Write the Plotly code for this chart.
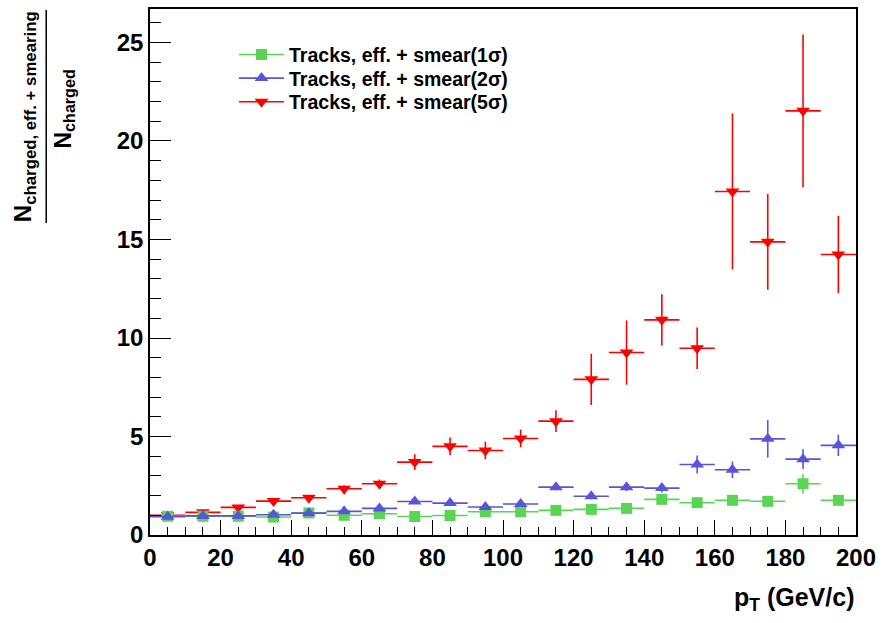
import plotly.graph_objects as go

# Transverse-momentum bin centres (GeV/c), 10 GeV/c wide bins
pt = [5, 15, 25, 35, 45, 55, 65, 75, 85, 95,
      105, 115, 125, 135, 145, 155, 165, 175, 185, 195]
bin_half_width = 5

# Ratio N(charged, eff. + smearing) / N(charged) per bin
ratio_1sigma = [0.95, 0.95, 0.95, 0.91, 1.12, 1.00, 1.08, 0.94, 0.99, 1.18,
                1.18, 1.25, 1.30, 1.35, 1.81, 1.64, 1.76, 1.71, 2.60, 1.76]
err_1sigma = [0.02, 0.02, 0.02, 0.03, 0.03, 0.03, 0.04, 0.04, 0.05, 0.06,
              0.07, 0.08, 0.09, 0.10, 0.13, 0.12, 0.14, 0.15, 0.49, 0.16]

ratio_2sigma = [0.93, 0.97, 0.97, 1.03, 1.11, 1.20, 1.35, 1.70, 1.62, 1.42,
                1.57, 2.43, 1.97, 2.43, 2.38, 3.58, 3.31, 4.88, 3.85, 4.55]
err_2sigma = [0.02, 0.02, 0.03, 0.03, 0.04, 0.05, 0.06, 0.08, 0.09, 0.09,
              0.11, 0.16, 0.16, 0.20, 0.22, 0.46, 0.42, 0.95, 0.50, 0.54]

ratio_5sigma = [1.00, 1.15, 1.40, 1.72, 1.89, 2.35, 2.60, 3.70, 4.50, 4.29,
                4.90, 5.78, 7.90, 9.26, 10.92, 9.48, 17.44, 14.88, 21.53, 14.24]
err_5sigma = [0.03, 0.05, 0.07, 0.10, 0.13, 0.17, 0.22, 0.40, 0.45, 0.45,
              0.45, 0.55, 1.30, 1.63, 1.30, 1.05, 3.96, 2.43, 3.88, 1.96]

series_names = ["Tracks, eff. + smear(1σ)",
                "Tracks, eff. + smear(2σ)",
                "Tracks, eff. + smear(5σ)"]

GREEN = "rgb(89,212,84)"
BLUE = "rgb(89,84,217)"
RED = "rgb(255,0,0)"

FONT = "Liberation Sans, Arial, Helvetica, sans-serif"

series = {
    "1s": (series_names[0], ratio_1sigma, err_1sigma, GREEN, "square", 11),
    "2s": (series_names[1], ratio_2sigma, err_2sigma, BLUE, "triangle-up", 12),
    "5s": (series_names[2], ratio_5sigma, err_5sigma, RED, "triangle-down", 12),
}

fig = go.Figure()

# data points: 5σ drawn first so the 1σ / 2σ points sit on top at low pT
for key in ["5s", "1s", "2s"]:
    name, vals, errs, col, sym, size = series[key]
    fig.add_trace(go.Scatter(
        x=pt, y=vals, mode="markers", name=name, showlegend=False,
        marker=dict(symbol=sym, size=size, color=col, line=dict(width=0)),
        error_x=dict(type="constant", value=bin_half_width, color=col,
                     thickness=1.6, width=0),
        error_y=dict(type="data", array=errs, color=col,
                     thickness=1.6, width=0),
    ))

# legend entries (line + marker), one legend box per row
legend_ids = ["legend", "legend2", "legend3"]
for key, lid in zip(["1s", "2s", "5s"], legend_ids):
    name, vals, errs, col, sym, size = series[key]
    fig.add_trace(go.Scatter(
        x=[None], y=[None], mode="lines+markers", name=name, legend=lid,
        line=dict(color=col, width=1.6),
        marker=dict(symbol=sym, size=size, color=col, line=dict(width=0)),
    ))

axis_common = dict(
    showgrid=False, zeroline=False, showline=True, linecolor="black",
    linewidth=1.5, mirror=True, ticks="inside", tickcolor="black",
    tickwidth=1.2,
    tickfont=dict(family=FONT, size=24, color="black", weight="bold"),
)

fig.update_xaxes(range=[0, 200], dtick=20, tick0=0, ticklen=15,
                 minor=dict(dtick=5, ticklen=8, ticks="inside",
                            tickcolor="black", tickwidth=1.2),
                 **axis_common)
fig.update_yaxes(range=[0, 26.7], dtick=5, tick0=0, ticklen=21,
                 minor=dict(dtick=1, ticklen=11, ticks="inside",
                            tickcolor="black", tickwidth=1.2),
                 **axis_common)

# y-axis title as a fraction: numerator, bar, denominator
fig.add_annotation(
    text="<b>N<sub>charged, eff. + smearing</sub></b>",
    xref="paper", yref="paper", x=-0.178, y=0.795,
    xanchor="center", yanchor="middle", textangle=-90, showarrow=False,
    font=dict(family=FONT, size=24, color="black"))
fig.add_annotation(
    text="<b>N<sub>charged</sub></b>",
    xref="paper", yref="paper", x=-0.121, y=0.81,
    xanchor="center", yanchor="middle", textangle=-90, showarrow=False,
    font=dict(family=FONT, size=23, color="black"))
fig.add_shape(type="line", xref="paper", yref="paper",
              x0=-0.147, x1=-0.147, y0=0.593, y1=0.998,
              line=dict(color="black", width=1.5))

# x-axis title, right-aligned below the axis
fig.add_annotation(
    text="<b>p<sub>T</sub> (GeV/c)</b>",
    xref="paper", yref="paper", x=1.0, y=-0.122,
    xanchor="right", yanchor="middle", showarrow=False,
    font=dict(family=FONT, size=25, color="black"))

legend_style = dict(
    xanchor="left", yanchor="middle", bgcolor="rgba(0,0,0,0)",
    borderwidth=0, itemwidth=45,
    font=dict(family=FONT, size=19.5, color="black", weight="bold"),
)
legend_rows_y = [0.913, 0.868, 0.823]

fig.update_layout(
    width=883, height=623,
    margin=dict(l=150, r=25, t=7, b=88),
    paper_bgcolor="white", plot_bgcolor="white",
    legend=dict(x=0.119, y=legend_rows_y[0], **legend_style),
    legend2=dict(x=0.119, y=legend_rows_y[1], **legend_style),
    legend3=dict(x=0.119, y=legend_rows_y[2], **legend_style),
)

fig.write_html("out.html")
